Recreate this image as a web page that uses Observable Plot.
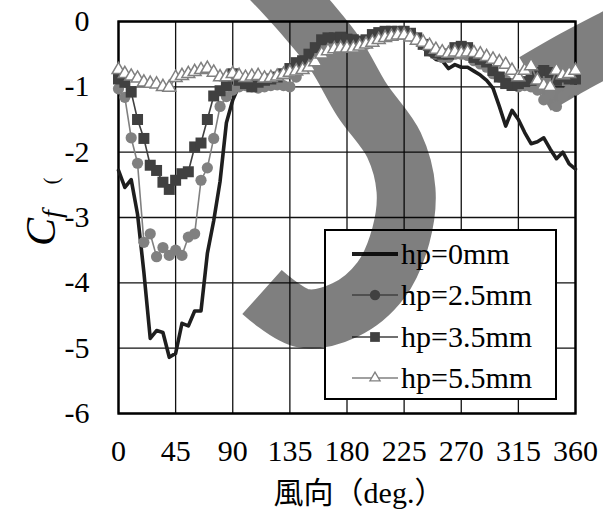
<!DOCTYPE html>
<html><head><meta charset="utf-8">
<script src="https://cdn.jsdelivr.net/npm/d3@7"></script>
<script src="https://cdn.jsdelivr.net/npm/@observablehq/plot@0.6"></script>
<style>
html,body{margin:0;padding:0;background:#fff;}
#wrap{position:relative;width:603px;height:514px;overflow:hidden;}
#wrap > *{position:absolute;left:0;top:0;}
</style></head><body><div id="wrap"></div>
<script>
// ---- data ----
const angles = [0,5,10,15,20,25,30,35,40,45,50,55,60,65,70,75,80,85,90,95,100,105,110,115,120,125,130,135,140,145,150,155,160,165,170,175,180,185,190,195,200,205,210,215,220,225,230,235,240,245,250,255,260,265,270,275,280,285,290,295,300,305,310,315,320,325,330,335,340,345,350,355,360];
const cfHp0 = [-2.28,-2.54,-2.42,-2.95,-3.84,-4.85,-4.73,-4.76,-5.14,-5.08,-4.62,-4.66,-4.43,-4.43,-3.55,-3.05,-2.45,-1.55,-1.2,-0.98,-0.9,-0.9,-0.88,-0.88,-0.87,-0.85,-0.82,-0.78,-0.72,-0.65,-0.55,-0.45,-0.35,-0.3,-0.28,-0.28,-0.3,-0.32,-0.35,-0.35,-0.3,-0.25,-0.22,-0.2,-0.18,-0.2,-0.25,-0.32,-0.4,-0.5,-0.58,-0.6,-0.72,-0.66,-0.7,-0.7,-0.76,-0.82,-0.9,-1.02,-1.3,-1.6,-1.36,-1.5,-1.7,-1.87,-1.84,-1.78,-1.95,-2.1,-2.0,-2.18,-2.26];
const cfHp25 = [-1.03,-1.16,-1.78,-2.17,-3.38,-3.25,-3.6,-3.46,-3.58,-3.5,-3.58,-3.3,-3.25,-2.43,-2.24,-1.79,-1.3,-1.15,-1.05,-1.0,-0.98,-1.0,-1.02,-1.0,-0.98,-0.97,-0.98,-1.0,-0.85,-0.7,-0.55,-0.45,-0.35,-0.3,-0.3,-0.32,-0.35,-0.38,-0.4,-0.35,-0.3,-0.25,-0.22,-0.2,-0.18,-0.18,-0.22,-0.28,-0.35,-0.45,-0.5,-0.55,-0.55,-0.5,-0.5,-0.52,-0.6,-0.65,-0.7,-0.8,-0.85,-0.9,-0.95,-1.0,-0.98,-1.0,-1.05,-1.2,-1.1,-1.3,-1.15,-1.05,-1.05];
const cfHp35 = [-0.88,-0.93,-1.08,-1.5,-1.79,-2.2,-2.28,-2.46,-2.57,-2.43,-2.33,-2.3,-1.92,-1.86,-1.5,-1.14,-1.06,-0.98,-0.8,-0.9,-0.95,-1.0,-0.93,-0.9,-0.88,-0.85,-0.8,-0.72,-0.63,-0.6,-0.5,-0.4,-0.28,-0.25,-0.25,-0.24,-0.27,-0.28,-0.3,-0.28,-0.2,-0.17,-0.15,-0.15,-0.15,-0.15,-0.18,-0.25,-0.35,-0.45,-0.48,-0.5,-0.5,-0.4,-0.38,-0.4,-0.55,-0.58,-0.62,-0.75,-0.85,-0.95,-0.98,-0.95,-0.92,-0.9,-0.78,-0.75,-0.78,-0.9,-0.85,-0.88,-0.88];
const cfHp55 = [-0.74,-0.8,-0.84,-0.87,-0.93,-0.95,-0.96,-1.0,-1.01,-0.86,-0.83,-0.8,-0.77,-0.74,-0.72,-0.78,-0.85,-0.85,-0.8,-0.83,-0.86,-0.84,-0.83,-0.87,-0.86,-0.84,-0.81,-0.78,-0.76,-0.74,-0.7,-0.62,-0.5,-0.45,-0.42,-0.41,-0.41,-0.41,-0.38,-0.35,-0.32,-0.28,-0.25,-0.23,-0.21,-0.21,-0.24,-0.29,-0.32,-0.37,-0.43,-0.47,-0.49,-0.47,-0.49,-0.47,-0.48,-0.5,-0.54,-0.58,-0.62,-0.66,-0.75,-0.85,-0.75,-0.68,-0.9,-0.98,-1.0,-0.75,-0.82,-0.8,-0.75];
const seriesNames = ["hp=0mm","hp=2.5mm","hp=3.5mm","hp=5.5mm"];
const xTicks = [0,45,90,135,180,225,270,315,360];
const yTicks = [0,-1,-2,-3,-4,-5,-6];
const xLabel = "風向（deg.）";

// ---- layout / style ----
const W = 603, H = 514;
const M = {left:118, right:28, top:21, bottom:101};
const serif = '"Liberation Serif","Tinos","Times New Roman","DejaVu Serif",Times,serif';
const styles = {
  "hp=0mm":   {color:"#1e1e1e", width:3.6, symbol:null},
  "hp=2.5mm": {color:"#808080", width:1.6, symbol:"circle", fill:"#808080", r:5.6},
  "hp=3.5mm": {color:"#404040", width:1.6, symbol:"square", fill:"#404040", r:6.2},
  "hp=5.5mm": {color:"#808080", width:1.6, symbol:"triangle", fill:"#ffffff", r:4.8}
};
const table = (name, vals) => angles.map((a,i)=>({deg:a, cf:vals[i], s:name}));
const dataSets = [table(seriesNames[0],cfHp0), table(seriesNames[1],cfHp25), table(seriesNames[2],cfHp35), table(seriesNames[3],cfHp55)];

const wrap = document.getElementById("wrap");
const common = {width:W, height:H, marginLeft:M.left, marginRight:M.right, marginTop:M.top, marginBottom:M.bottom,
  x:{domain:[0,360]}, y:{domain:[-6,0]},
  style:{fontFamily:serif, fontSize:"30px", color:"#000", background:"transparent", overflow:"visible"}};

// layer 1: grid, axes, frame
const base = Plot.plot({...common,
  marks:[
    Plot.gridX(xTicks, {stroke:"#111", strokeOpacity:1, strokeWidth:1.3}),
    Plot.gridY(yTicks, {stroke:"#111", strokeOpacity:1, strokeWidth:1.3}),
    Plot.axisX(xTicks, {tickSize:0, tickPadding:26, tickFormat:d=>String(d), label:null, fontSize:30}),
    Plot.axisY(yTicks, {tickSize:0, tickPadding:29, tickFormat:d=>String(d), label:null, fontSize:30}),
    Plot.frame({stroke:"#000", strokeWidth:2.4})
  ]});
wrap.appendChild(base);
const bsvg = d3.select(base);
bsvg.append("text").attr("x",359).attr("y",503).attr("text-anchor","middle")
  .style("font-family",'"Liberation Serif","Tinos","DejaVu Serif","Noto Sans CJK JP",serif').style("font-size","30px").text(xLabel);
const yl = bsvg.append("text").attr("transform","translate(55,228) rotate(-90)").attr("text-anchor","middle")
  .style("font-family",serif).style("font-style","italic");
yl.append("tspan").style("font-size","42px").text("C");
yl.append("tspan").style("font-size","28px").attr("dy",6).text("f");
bsvg.append("text").attr("transform","translate(58,181) rotate(-90)").attr("text-anchor","middle")
  .style("font-family",serif).style("font-size","20px").text("(");

// layer 2: legend box and legend content
const lg = d3.create("svg").attr("width",W).attr("height",H);
lg.append("rect").attr("x",325).attr("y",230).attr("width",231).attr("height",169)
  .attr("fill","#fff").attr("stroke","#000").attr("stroke-width",2);
const rowsY = [254,295,337,378];
seriesNames.forEach((n,i)=>{
  const st = styles[n], y = rowsY[i];
  lg.append("line").attr("x1",352).attr("x2",398).attr("y1",y).attr("y2",y)
    .attr("stroke",st.color).attr("stroke-width",st.symbol?1.6:4);
  if (st.symbol){
    const sym = {circle:d3.symbolCircle, square:d3.symbolSquare, triangle:d3.symbolTriangle}[st.symbol];
    const size = st.symbol==="triangle" ? 45 : (st.symbol==="square"? 95 : 85);
    lg.append("path").attr("d",d3.symbol(sym,size)()).attr("transform",`translate(375,${y})`)
      .attr("fill",st.fill).attr("stroke",st.color).attr("stroke-width",st.symbol==="triangle"?1.3:0);
  }
  lg.append("text").attr("x",401).attr("y",y).attr("dy","0.34em").style("font-family",serif).style("font-size","30px").text(n);
});
wrap.appendChild(lg.node());

// layer 3: overlay band (semi-transparent)
const ov = d3.create("svg").attr("width",W).attr("height",H);
const bandA = [[262,292],[302,318],[345,310],[381,280],[401,235],[406,190],[394,145],[362,100],[336,55],[309,21],[286,-5],[262,-30]];
const bandB = [[535,84],[575,61],[615,40],[650,22]];
const lineGen = d3.line().curve(d3.curveCatmullRom);
[[bandA,59],[bandB,62]].forEach(([pts,w])=>{
  ov.append("path").attr("d",lineGen(pts)).attr("fill","none").attr("stroke","#000")
    .attr("stroke-opacity",0.5).attr("stroke-width",w).attr("stroke-linecap","butt");
});
wrap.appendChild(ov.node());

// layer 4: data
const dataMarks = [];
dataSets.forEach(d=>{
  const st = styles[d[0].s];
  dataMarks.push(Plot.line(d, {x:"deg", y:"cf", stroke:st.color, strokeWidth:st.width, curve:"linear"}));
  if (st.symbol) dataMarks.push(Plot.dot(d, {x:"deg", y:"cf", symbol:()=>st.symbol, fill:st.fill, stroke:st.color, strokeWidth:st.symbol==="triangle"?1.5:0, r:st.r}));
});
const dataPlot = Plot.plot({...common, axis:null, marks:dataMarks});
wrap.appendChild(dataPlot);
</script></body></html>
